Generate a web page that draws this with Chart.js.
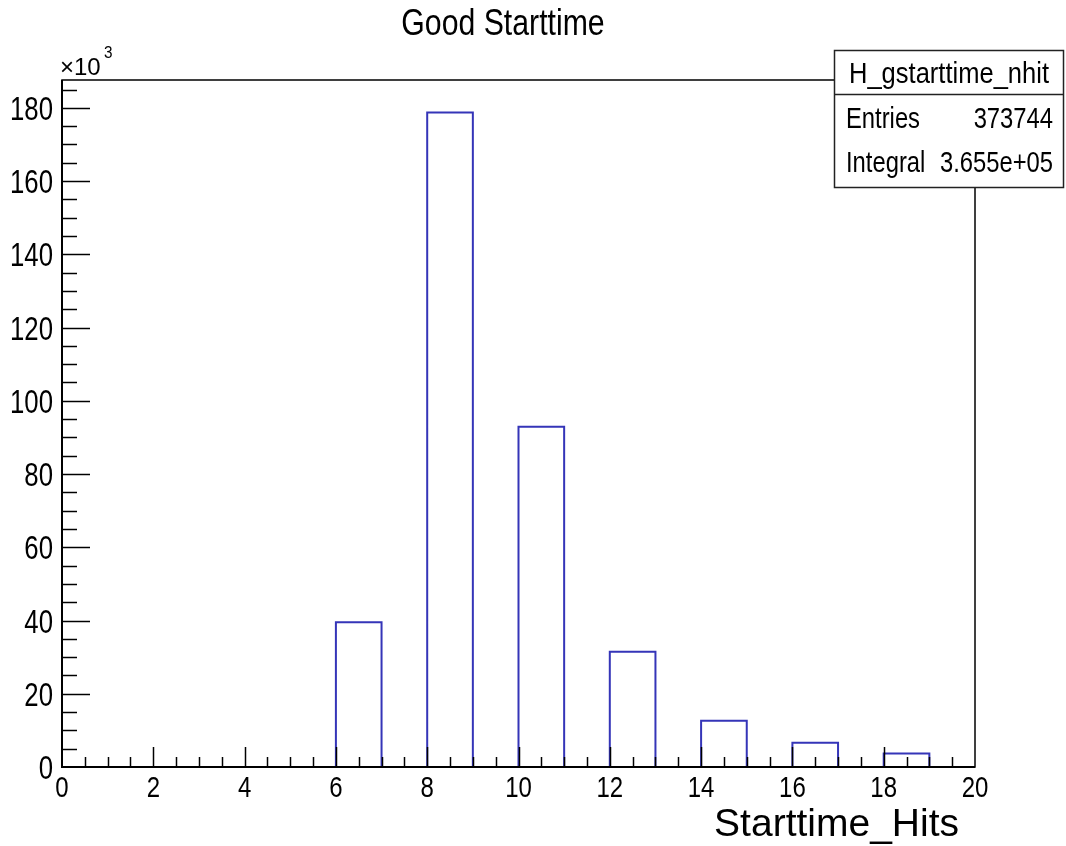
<!DOCTYPE html>
<html>
<head>
<meta charset="utf-8">
<title>Good Starttime</title>
<script src="https://cdn.jsdelivr.net/npm/chart.js@4.4.1/dist/chart.umd.min.js"></script>
<style>
  html, body { margin: 0; padding: 0; background: #fff; }
  canvas { display: block; }
</style>
</head>
<body>
<canvas id="histo" width="1066" height="846"></canvas>
<script>
// bin low edges (Starttime_Hits), bin width 1
const binEdges = [0,1,2,3,4,5,6,7,8,9,10,11,12,13,14,15,16,17,18,19];
// bin contents, in units of 10^3 entries
const binCounts = [0,0,0,0,0,0,39.5,0,178.7,0,92.9,0,31.5,0,12.6,0,6.6,0,3.7,0];
const xTickLabels = ['0','2','4','6','8','10','12','14','16','18','20'];
const yTickLabels = ['0','20','40','60','80','100','120','140','160','180'];
const statsName = 'H_gstarttime_nhit';
const statsRows = [['Entries', '373744'], ['Integral', '3.655e+05']];

const FONT = "'Liberation Sans', Arial, Helvetica, sans-serif";
const lineBlue = '#3535b8';

// step outline: start at (0,0), then each bin's upper edge with its content
const stepPts = [{ x: 0, y: 0 }];
binEdges.forEach((x, i) => stepPts.push({ x: x + 1, y: binCounts[i] }));
stepPts.push({ x: 20, y: 0 });

function txt(ctx, s, x, y, size, sx, align) {
  ctx.save();
  ctx.translate(x, y);
  ctx.scale(sx, 1);
  ctx.font = size + 'px ' + FONT;
  ctx.textAlign = align || 'left';
  ctx.textBaseline = 'alphabetic';
  ctx.fillStyle = '#000';
  ctx.fillText(s, 0, 0);
  ctx.restore();
}

const rootAxes = {
  id: 'rootAxes',
  afterDatasetsDraw(chart) {
    const ctx = chart.ctx;
    const xs = chart.scales.x, ys = chart.scales.y;
    const a = chart.chartArea;
    ctx.save();
    ctx.strokeStyle = '#000';

    // frame
    ctx.lineWidth = 1.5;
    ctx.strokeRect(a.left, a.top, a.right - a.left, a.bottom - a.top);
    ctx.lineWidth = 2;
    ctx.beginPath();
    ctx.moveTo(a.left, a.top); ctx.lineTo(a.left, a.bottom); ctx.lineTo(a.right, a.bottom);
    ctx.stroke();

    // x ticks every 0.5, major every 2
    ctx.lineWidth = 1.5;
    for (let v = 0.5; v < 20; v += 0.5) {
      const px = Math.round(xs.getPixelForValue(v)) + 0.5;
      const len = (v % 2 === 0) ? 20 : 10;
      ctx.beginPath(); ctx.moveTo(px, a.bottom); ctx.lineTo(px, a.bottom - len); ctx.stroke();
    }
    // y ticks every 5, major every 20
    for (let v = 5; v < ys.max; v += 5) {
      const py = Math.round(ys.getPixelForValue(v)) + 0.5;
      const len = (v % 20 === 0) ? 28 : 15;
      ctx.beginPath(); ctx.moveTo(a.left, py); ctx.lineTo(a.left + len, py); ctx.stroke();
    }

    // tick labels
    xTickLabels.forEach(l => {
      txt(ctx, l, xs.getPixelForValue(Number(l)), 797, 30, 0.8, 'center');
    });
    yTickLabels.forEach(l => {
      txt(ctx, l, 53, ys.getPixelForValue(Number(l)) + 12, 33, 0.78, 'right');
    });

    // exponent
    txt(ctx, '\u00d710', 60, 75, 24, 1.0, 'left');
    txt(ctx, '3', 104, 58, 17, 0.9, 'left');

    // title + axis title
    txt(ctx, 'Good Starttime', 503, 35, 36, 0.84, 'center');
    txt(ctx, 'Starttime_Hits', 959, 836, 39, 1.0, 'right');

    // stats box
    const bx = 834, by = 50, bw = 229, bh = 137;
    ctx.fillStyle = '#fff';
    ctx.fillRect(bx, by, bw, bh);
    ctx.lineWidth = 1.5;
    ctx.strokeStyle = '#222';
    ctx.strokeRect(bx + 0.5, by + 0.5, bw, bh);
    ctx.beginPath(); ctx.moveTo(bx, 94.5); ctx.lineTo(bx + bw, 94.5); ctx.stroke();
    txt(ctx, statsName, 949, 83, 29, 0.88, 'center');
    statsRows.forEach((r, i) => {
      const yb = 128 + i * 44;
      txt(ctx, r[0], 846, yb, 29, 0.82, 'left');
      txt(ctx, r[1], 1053, yb, 29, 0.82, 'right');
    });
    ctx.restore();
  }
};

new Chart(document.getElementById('histo').getContext('2d'), {
  type: 'scatter',
  data: {
    datasets: [{
      label: statsName,
      data: stepPts,
      showLine: true,
      stepped: 'after',
      borderColor: lineBlue,
      borderWidth: 2,
      pointRadius: 0,
      fill: false,
      clip: false
    }]
  },
  options: {
    responsive: false,
    animation: false,
    events: [],
    layout: { padding: { left: 62, right: 91, top: 80, bottom: 79 } },
    plugins: { legend: { display: false }, tooltip: { enabled: false } },
    scales: {
      x: { type: 'linear', min: 0, max: 20, display: false },
      y: { type: 'linear', min: 0, max: 187.6, display: false }
    }
  },
  plugins: [rootAxes]
});
</script>
</body>
</html>
